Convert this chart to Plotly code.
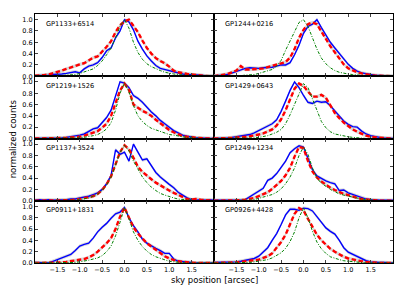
import plotly.graph_objects as go
from plotly.subplots import make_subplots

x = [-2.0, -1.9, -1.8, -1.7, -1.6, -1.5, -1.4, -1.3, -1.2, -1.1,
     -1.0, -0.9, -0.8, -0.7, -0.6, -0.5, -0.4, -0.3, -0.2, -0.1,
     0.0, 0.1, 0.2, 0.3, 0.4, 0.5, 0.6, 0.7, 0.8, 0.9,
     1.0, 1.1, 1.2, 1.3, 1.4, 1.5, 1.6, 1.7, 1.8, 1.9, 2.0]

names = ["GP1133+6514", "GP1244+0216", "GP1219+1526", "GP1429+0643",
         "GP1137+3524", "GP1249+1234", "GP0911+1831", "GP0926+4428"]

blue_1133 = [0.01,0.01,0.02,0.02,0.03,0.03,0.04,0.05,0.07,0.08,
             0.06,0.13,0.18,0.20,0.24,0.33,0.45,0.50,0.68,0.80,
             1.00,0.96,0.82,0.62,0.48,0.36,0.27,0.19,0.14,0.12,
             0.10,0.07,0.05,0.04,0.03,0.03,0.02,0.02,0.01,0.01,0.01]
red_1133 = [0.01,0.01,0.02,0.03,0.05,0.07,0.10,0.13,0.15,0.18,
            0.21,0.23,0.28,0.33,0.35,0.43,0.52,0.62,0.78,0.90,
            0.97,1.00,0.90,0.78,0.63,0.50,0.40,0.32,0.27,0.23,
            0.17,0.10,0.07,0.05,0.04,0.03,0.02,0.01,0.01,0.00,0.00]
green_1133 = [0,0,0,0,0,0.01,0.01,0.02,0.02,0.03,
              0.05,0.08,0.10,0.13,0.19,0.27,0.38,0.50,0.68,0.88,
              1.00,0.85,0.60,0.42,0.30,0.22,0.17,0.13,0.10,0.07,
              0.05,0.04,0.03,0.02,0.01,0.01,0.01,0,0,0,0]

blue_1244 = [0.01,0.01,0.02,0.03,0.06,0.09,0.11,0.14,0.15,0.14,
             0.14,0.15,0.15,0.16,0.18,0.20,0.20,0.24,0.38,0.55,
             0.76,0.88,0.92,1.00,0.86,0.72,0.60,0.50,0.40,0.30,
             0.21,0.14,0.09,0.06,0.04,0.03,0.02,0.01,0.01,0.01,0.00]
red_1244 = [0.00,0.01,0.02,0.04,0.07,0.10,0.18,0.12,0.12,0.12,
            0.13,0.14,0.16,0.18,0.20,0.22,0.25,0.33,0.48,0.68,
            0.82,0.92,0.95,0.92,0.80,0.66,0.53,0.42,0.31,0.21,
            0.14,0.10,0.07,0.05,0.03,0.02,0.01,0.01,0,0,0]
green_1244 = [0,0,0,0,0.01,0.01,0.01,0.02,0.02,0.03,
              0.05,0.07,0.09,0.12,0.18,0.28,0.46,0.62,0.80,0.95,
              1.00,0.88,0.68,0.48,0.32,0.22,0.15,0.10,0.07,0.05,
              0.04,0.03,0.02,0.01,0.01,0.01,0,0,0,0,0]

blue_1219 = [0,0,0,0,0.01,0.01,0.01,0.02,0.03,0.04,
             0.06,0.08,0.12,0.17,0.19,0.28,0.37,0.50,0.75,1.00,
             0.98,0.90,0.76,0.71,0.64,0.55,0.47,0.40,0.32,0.26,
             0.20,0.14,0.10,0.06,0.04,0.02,0.01,0.01,0,0,0]
red_1219 = [0,0,0,0,0,0,0.01,0.01,0.02,0.02,
            0.03,0.05,0.08,0.10,0.13,0.19,0.26,0.40,0.62,0.85,
            0.97,0.86,0.60,0.54,0.49,0.45,0.40,0.33,0.27,0.21,
            0.15,0.11,0.07,0.04,0.03,0.02,0.01,0.01,0,0,0]
green_1219 = [0,0,0,0,0,0,0,0,0,0.01,
              0.01,0.02,0.03,0.05,0.07,0.11,0.17,0.28,0.50,0.80,
              0.98,0.82,0.58,0.40,0.30,0.23,0.18,0.15,0.12,0.09,
              0.07,0.06,0.04,0.03,0.02,0.01,0.01,0,0,0,0]

blue_1429 = [0,0,0.01,0.01,0.02,0.03,0.04,0.05,0.07,0.10,
             0.14,0.18,0.22,0.26,0.33,0.48,0.66,0.85,1.00,0.90,
             0.76,0.64,0.62,0.66,0.64,0.65,0.58,0.48,0.40,0.31,
             0.25,0.21,0.20,0.13,0.08,0.05,0.03,0.02,0.01,0,0]
red_1429 = [0,0,0,0.01,0.01,0.02,0.02,0.03,0.04,0.05,
            0.07,0.09,0.12,0.16,0.23,0.34,0.50,0.70,0.88,0.97,
            0.93,0.83,0.74,0.74,0.77,0.72,0.58,0.45,0.36,0.28,
            0.22,0.16,0.12,0.08,0.05,0.03,0.02,0.01,0.01,0,0]
green_1429 = [0,0,0,0,0,0,0,0,0,0.01,
              0.02,0.03,0.05,0.08,0.11,0.16,0.26,0.42,0.60,0.80,
              0.97,0.90,0.70,0.48,0.30,0.19,0.12,0.08,0.06,0.04,
              0.03,0.02,0.01,0.01,0,0,0,0,0,0,0]

blue_1137 = [0.01,0.02,0.01,0.02,0.01,0.01,0.02,0.02,0.03,0.03,
             0.05,0.06,0.08,0.11,0.14,0.20,0.30,0.45,0.90,0.82,
             0.86,0.70,1.00,0.86,0.72,0.74,0.62,0.50,0.42,0.35,
             0.29,0.23,0.15,0.10,0.05,0.02,0.01,0.02,0.01,0.02,0.01]
red_1137 = [0,0,0,0,0,0.01,0.01,0.01,0.01,0.02,
            0.03,0.04,0.06,0.08,0.12,0.19,0.29,0.43,0.66,0.86,
            0.98,0.91,0.76,0.60,0.51,0.44,0.38,0.32,0.27,0.23,
            0.18,0.14,0.10,0.06,0.03,0.02,0.03,0.02,0.01,0.01,0]
green_1137 = [0,0,0,0,0,0,0,0,0,0.01,
              0.02,0.03,0.05,0.08,0.12,0.18,0.28,0.42,0.62,0.85,
              0.98,0.88,0.70,0.55,0.42,0.32,0.24,0.18,0.13,0.10,
              0.07,0.05,0.03,0.02,0.01,0.01,0,0,0,0,0]

blue_1249 = [0.01,0.01,0,0,0.01,0.01,0.01,0.02,0.07,0.12,
             0.16,0.22,0.36,0.40,0.48,0.58,0.70,0.85,0.92,0.97,
             0.95,0.75,0.55,0.44,0.39,0.35,0.32,0.30,0.18,0.19,
             0.14,0.11,0.08,0.05,0.03,0.02,0.01,0.01,0.01,0.01,0.01]
red_1249 = [0,0,0,0,0,0,0.01,0.02,0.03,0.05,
            0.08,0.11,0.15,0.21,0.28,0.35,0.45,0.58,0.78,0.95,
            0.93,0.70,0.52,0.41,0.34,0.28,0.23,0.19,0.15,0.12,
            0.10,0.07,0.05,0.03,0.02,0.01,0.01,0,0,0,0]
green_1249 = [0,0,0,0,0,0,0,0,0.01,0.02,
              0.04,0.06,0.08,0.11,0.15,0.21,0.30,0.42,0.58,0.80,
              0.95,0.82,0.58,0.40,0.31,0.25,0.20,0.16,0.12,0.10,
              0.08,0.06,0.04,0.03,0.02,0.01,0,0,0,0,0]

blue_0911 = [0.01,0.01,0.01,0,0.03,0.06,0.08,0.11,0.15,0.22,
             0.30,0.33,0.35,0.44,0.55,0.63,0.70,0.79,0.87,0.90,
             0.98,0.80,0.66,0.55,0.42,0.35,0.30,0.26,0.22,0.17,
             0.17,0.07,0.03,0.02,0.01,0.01,0,0,0,0,0]
red_0911 = [0,0,0,0,0,0.01,0.01,0.02,0.03,0.04,
            0.05,0.07,0.10,0.14,0.20,0.27,0.35,0.44,0.60,0.82,
            0.98,0.80,0.63,0.52,0.43,0.35,0.29,0.23,0.17,0.12,
            0.08,0.05,0.03,0.02,0.01,0,0,0,0,0,0]
green_0911 = [0,0,0,0,0,0,0,0,0,0.01,
              0.02,0.03,0.05,0.07,0.09,0.13,0.20,0.30,0.48,0.72,
              0.98,0.78,0.55,0.40,0.29,0.21,0.15,0.11,0.08,0.05,
              0.03,0.02,0.01,0,0,0,0,0,0,0,0]

blue_0926 = [0.01,0.01,0.01,0.01,0.02,0.02,0.03,0.05,0.06,0.08,
             0.12,0.20,0.27,0.40,0.52,0.68,0.85,0.95,0.95,0.93,
             0.97,0.96,0.92,0.82,0.72,0.62,0.56,0.51,0.40,0.27,
             0.19,0.15,0.11,0.07,0.04,0.02,0.01,0.01,0.01,0,0]
red_0926 = [0,0,0,0,0,0.01,0.02,0.03,0.04,0.05,
            0.06,0.09,0.12,0.17,0.26,0.37,0.50,0.68,0.87,0.97,
            0.93,0.78,0.63,0.50,0.40,0.32,0.25,0.20,0.15,0.11,
            0.08,0.06,0.04,0.03,0.02,0.01,0.01,0,0,0,0]
green_0926 = [0,0,0,0,0,0,0,0,0.01,0.02,
              0.03,0.04,0.06,0.09,0.13,0.18,0.26,0.38,0.55,0.80,
              0.97,0.80,0.56,0.37,0.25,0.17,0.11,0.08,0.06,0.04,
              0.03,0.02,0.01,0,0,0,0,0,0,0,0]

blues = [blue_1133, blue_1244, blue_1219, blue_1429, blue_1137, blue_1249, blue_0911, blue_0926]
reds = [red_1133, red_1244, red_1219, red_1429, red_1137, red_1249, red_0911, red_0926]
greens = [green_1133, green_1244, green_1219, green_1429, green_1137, green_1249, green_0911, green_0926]

band = 0.03
x_ticks = [-1.5, -1.0, -0.5, 0.0, 0.5, 1.0, 1.5]
y_ticks = [0.0, 0.2, 0.4, 0.6, 0.8, 1.0]

FONT = "DejaVu Sans"
fig = make_subplots(rows=4, cols=2, horizontal_spacing=0, vertical_spacing=0)

for i in range(8):
    r = i // 2 + 1
    c = i % 2 + 1
    for ys in (blues[i], reds[i]):
        up = [v + band for v in ys]
        lo = [v - band for v in ys]
        fig.add_trace(go.Scatter(x=x, y=up, mode="lines", line=dict(width=0, color="rgba(0,0,0,0)"),
                                 hoverinfo="skip", showlegend=False), row=r, col=c)
        fig.add_trace(go.Scatter(x=x, y=lo, mode="lines", line=dict(width=0, color="rgba(0,0,0,0)"),
                                 fill="tonexty", fillcolor="rgba(185,185,185,0.55)",
                                 hoverinfo="skip", showlegend=False), row=r, col=c)
    fig.add_trace(go.Scatter(x=x, y=blues[i], mode="lines", line=dict(color="#0000ff", width=1.4),
                             showlegend=False), row=r, col=c)
    fig.add_trace(go.Scatter(x=x, y=reds[i], mode="lines",
                             line=dict(color="#ff0000", width=2.4, dash="4.5px,2.5px"),
                             showlegend=False), row=r, col=c)
    fig.add_trace(go.Scatter(x=x, y=greens[i], mode="lines",
                             line=dict(color="#008000", width=1.0, dash="3px,1.5px,1px,1.5px"),
                             showlegend=False), row=r, col=c)
    idx = "" if i == 0 else str(i + 1)
    fig.add_annotation(x=-1.8, y=0.93, xref="x" + idx, yref="y" + idx, text=names[i],
                       showarrow=False, xanchor="left", yanchor="middle",
                       font=dict(family=FONT, size=6.6, color="black"))

fig.update_xaxes(range=[-2, 2], tickvals=x_ticks, tickformat=".1f", ticks="inside", ticklen=3,
                 showline=True, linecolor="black", linewidth=1, mirror="ticks",
                 showgrid=False, zeroline=False, showticklabels=False,
                 tickfont=dict(family=FONT, size=6.5, color="black"))
fig.update_yaxes(range=[0, 1.1], tickvals=y_ticks, tickformat=".1f", ticks="inside", ticklen=3,
                 showline=True, linecolor="black", linewidth=1, mirror="ticks",
                 showgrid=False, zeroline=False, showticklabels=False,
                 tickfont=dict(family=FONT, size=6.5, color="black"))
for c in (1, 2):
    fig.update_xaxes(showticklabels=True, row=4, col=c)
for r in range(1, 5):
    fig.update_yaxes(showticklabels=True, row=r, col=1)

fig.add_annotation(x=0.5, y=-0.07, xref="paper", yref="paper", text="sky position [arcsec]",
                   showarrow=False, xanchor="center", yanchor="middle",
                   font=dict(family=FONT, size=8.5, color="black"))
fig.add_annotation(x=-0.062, y=0.5, xref="paper", yref="paper", text="normalized counts",
                   showarrow=False, textangle=-90, xanchor="center", yanchor="middle",
                   font=dict(family=FONT, size=8.5, color="black"))

fig.update_layout(width=415, height=292, margin=dict(l=35, r=22, t=14, b=29),
                  paper_bgcolor="white", plot_bgcolor="white",
                  font=dict(family=FONT, size=6.5, color="black"))

fig.write_html("out.html", config={"displayModeBar": False, "staticPlot": True},
               post_script="document.body.style.margin='0';document.body.style.padding='0';")
